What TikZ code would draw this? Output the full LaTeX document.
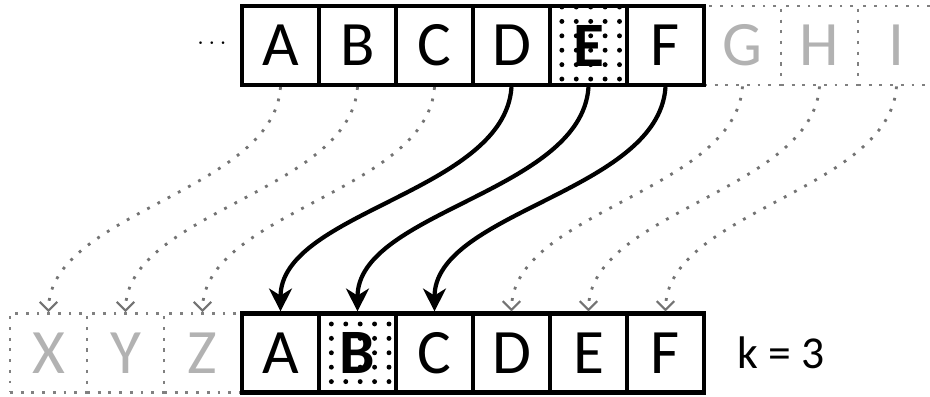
\documentclass[tikz,border=0pt]{standalone}
\usepackage{fontspec}
\setmainfont{Carlito}
\usetikzlibrary{arrows.meta,patterns.meta}

\newcommand\cellfont{\fontsize{36}{36}\selectfont}

\begin{document}
\begin{tikzpicture}[
 x=0.02cm,y=-0.02cm,
 cell/.style={draw,line width=2.4pt,minimum width=1.54cm,minimum height=1.58cm,
  inner sep=0pt,font=\cellfont},
 ghost/.style={cell,draw=black!50,line width=1.6pt,dash pattern=on 1.6pt off 4.5pt,
  text=black!30},
 hit/.style={cell,pattern={Dots[radius=1.4pt,distance=8.2pt]},font=\cellfont\bfseries},
 link/.style={line width=2.4pt,-{Stealth[length=13pt,width=13pt,inset=4pt]}},
 faint/.style={black!55,line width=1.6pt,dash pattern=on 1.6pt off 5pt,
  -{Straight Barb[length=5pt,width=10pt,line width=1.2pt]}}
]
 \useasboundingbox (0,0) rectangle (930,396);

 % shifted window, greyed cells first so the solid borders stay on top
 \node[ghost] (tG) at (742.5,45.5) {G};
 \node[ghost] (tH) at (819.5,45.5) {H};
 \node[ghost] (tI) at (896.5,45.5) {I};
 \node[ghost] (bX) at (48.5,353) {X};
 \node[ghost] (bY) at (125.5,353) {Y};
 \node[ghost] (bZ) at (202.5,353) {Z};

 \node[font=\Large] (more) at (212,44) {$\cdots$};
 \node[cell] (tA) at (280.5,45.5) {A};
 \node[cell] (tB) at (357.5,45.5) {B};
 \node[cell] (tC) at (434.5,45.5) {C};
 \node[cell] (tD) at (511.5,45.5) {D};
 \node[hit]  (tE) at (588.5,45.5) {E};
 \node[cell] (tF) at (665.5,45.5) {F};

 \node[cell] (bA) at (280.5,353) {A};
 \node[hit]  (bB) at (357.5,353) {B};
 \node[cell] (bC) at (434.5,353) {C};
 \node[cell] (bD) at (511.5,353) {D};
 \node[cell] (bE) at (588.5,353) {E};
 \node[cell] (bF) at (665.5,353) {F};
 \node[anchor=west,font=\fontsize{26}{26}\selectfont] (shift) at (731,353) {k = 3};

 \draw[faint] (tA.south) .. controls +(-7,105) and +(0,-100) .. (bX.north);
 \draw[faint] (tB.south) .. controls +(-7,105) and +(0,-100) .. (bY.north);
 \draw[faint] (tC.south) .. controls +(-7,105) and +(0,-100) .. (bZ.north);
 \draw[faint] (tG.south) .. controls +(-7,105) and +(0,-100) .. (bD.north);
 \draw[faint] (tH.south) .. controls +(-7,105) and +(0,-100) .. (bE.north);
 \draw[faint] (tI.south) .. controls +(-7,105) and +(0,-100) .. (bF.north);

 \draw[link] (tD.south) .. controls +(-7,105) and +(0,-100) .. (bA.north);
 \draw[link] (tE.south) .. controls +(-7,105) and +(0,-100) .. (bB.north);
 \draw[link] (tF.south) .. controls +(-7,105) and +(0,-100) .. (bC.north);
\end{tikzpicture}
\end{document}
